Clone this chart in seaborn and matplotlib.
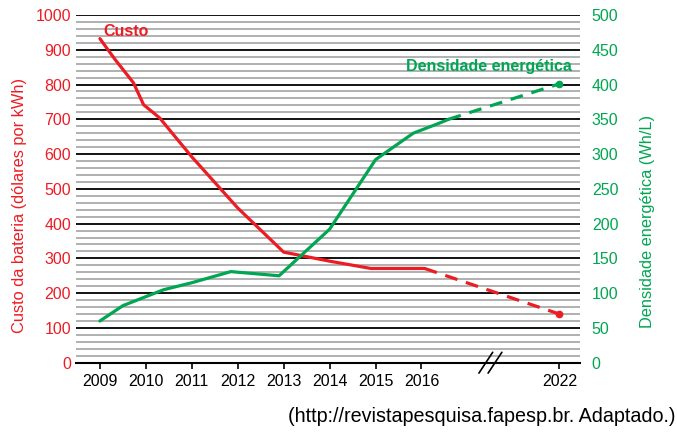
import numpy as np
import pandas as pd

import matplotlib
matplotlib.use('Agg')

import matplotlib.pyplot as plt
import matplotlib.transforms as mtransforms

import seaborn as sns

# battery cost (left axis, dollars per kWh)
cost_years = [2009.0, 2009.33, 2009.73, 2009.95, 2010.3, 2011.0, 2012.0, 2013.0, 2014.0, 2014.9, 2016.14]
cost_values = [932, 872, 805, 742, 704, 592, 445, 318, 292, 271, 271]
cost_proj_years = [2016.14, 2022.0]
cost_proj_values = [271, 140]

# energy density (right axis, Wh/L)
dens_years = [2009.0, 2009.5, 2010.0, 2010.39, 2011.0, 2011.85, 2012.9, 2014.0, 2015.0, 2015.82, 2016.74, 2017.18]
dens_values = [60, 82, 95, 105, 115, 131, 125, 192, 292, 330, 344, 350]
dens_proj_years = [2017.18, 2022.0]
dens_proj_values = [350, 401]

tick_years = [2009, 2010, 2011, 2012, 2013, 2014, 2015, 2016, 2022]

RED = '#ED1C24'
GREEN = '#00A651'

sns.set_style('white')
plt.rcParams['font.family'] = ['Liberation Sans', 'DejaVu Sans']


# broken x axis: 2016 -> 2022 squeezed into three year-widths
def fwd(x):
    x = np.asarray(x, dtype=float)
    return np.where(x <= 2016, x - 2009, 7 + (x - 2016) / 2)


def inv(y):
    y = np.asarray(y, dtype=float)
    return np.where(y <= 7, y + 2009, 2016 + (y - 7) * 2)


fig = plt.figure(figsize=(6.77, 4.32), dpi=100)
ax = fig.add_axes([0.1123, 0.1604, 0.7444, 0.8049])
ax2 = ax.twinx()
ax.set_xscale('function', functions=(fwd, inv))

cost = pd.DataFrame({'ano': cost_years, 'custo': cost_values})
cost_p = pd.DataFrame({'ano': cost_proj_years, 'custo': cost_proj_values})
dens = pd.DataFrame({'ano': dens_years, 'dens': dens_values})
dens_p = pd.DataFrame({'ano': dens_proj_years, 'dens': dens_proj_values})

sns.lineplot(data=cost, x='ano', y='custo', ax=ax, color=RED, lw=2.3, sort=False, zorder=5)
sns.lineplot(data=cost_p, x='ano', y='custo', ax=ax, color=RED, lw=2.3, zorder=5,
             dashes=False, linestyle=(0, (4, 2.8)))
ax.plot(cost_proj_years[-1:], cost_proj_values[-1:], 'o', color=RED, ms=4.5, zorder=6)

sns.lineplot(data=dens, x='ano', y='dens', ax=ax2, color=GREEN, lw=2.3, sort=False, zorder=5)
sns.lineplot(data=dens_p, x='ano', y='dens', ax=ax2, color=GREEN, lw=2.3, zorder=5,
             dashes=False, linestyle=(0, (4, 2.8)))
ax2.plot(dens_proj_years[-1:], dens_proj_values[-1:], 'o', color=GREEN, ms=4.5, zorder=6)

ax.set_xlim(2008.48, 2022.9)
ax.set_ylim(0, 1000)
ax2.set_ylim(0, 500)

ax.set_xticks(tick_years)
ax.set_xticklabels([str(y) for y in tick_years])
ax.xaxis.set_minor_locator(matplotlib.ticker.NullLocator())
ax.set_yticks(np.arange(0, 1001, 100))
ax.set_yticks(np.arange(0, 1001, 20), minor=True)
ax2.set_yticks(np.arange(0, 501, 50))

ax.grid(which='minor', axis='y', color='#b0b0b0', lw=1.4)
ax.grid(which='major', axis='y', color='black', lw=1.3)
ax.grid(which='major', axis='x', visible=False)
ax.set_axisbelow(True)
ax2.grid(False)

for a in (ax, ax2):
    for s in ('left', 'right', 'top', 'bottom'):
        a.spines[s].set_visible(False)
ax.spines['bottom'].set_visible(True)
ax.spines['bottom'].set_color('black')
ax.spines['bottom'].set_linewidth(1.5)

ax.tick_params(axis='x', which='major', length=4.5, width=1.2, color='black',
               pad=3.5, labelsize=11.5, labelcolor='black', bottom=True)
ax.tick_params(axis='y', which='both', length=0, pad=3.5, labelsize=11.5, labelcolor=RED)
ax2.tick_params(axis='y', which='both', length=0, pad=8.5, labelsize=11.5, labelcolor=GREEN)

ax.set_xlabel('')
ax.set_ylabel('Custo da bateria (dólares por kWh)', color=RED, fontsize=11.8, labelpad=6)
ax.yaxis.label.set_y(0.451)
ax2.set_ylabel('Densidade energética (Wh/L)', color=GREEN, fontsize=11.8, labelpad=15.5)
ax2.yaxis.label.set_y(0.405)

ax.text(2009.07, 953, 'Custo', color=RED, fontsize=11.5, fontweight='bold', ha='left', va='center')
ax2.text(2022.56, 426, 'Densidade energética', color=GREEN, fontsize=11.5, fontweight='bold',
         ha='right', va='center')

# axis break marks
trans = mtransforms.blended_transform_factory(ax.transData, ax.transAxes)
for off in (-0.1, 0.1):
    ax.plot([inv(8.5 + off - 0.15), inv(8.5 + off + 0.15)], [-0.03, 0.03], color='black',
            lw=1.2, transform=trans, clip_on=False, zorder=7)

fig.text(0.998, 0.037, '(http://revistapesquisa.fapesp.br. Adaptado.)', ha='right', va='center',
         fontsize=14.2, color='black')

plt.savefig('out.png', dpi=100)
